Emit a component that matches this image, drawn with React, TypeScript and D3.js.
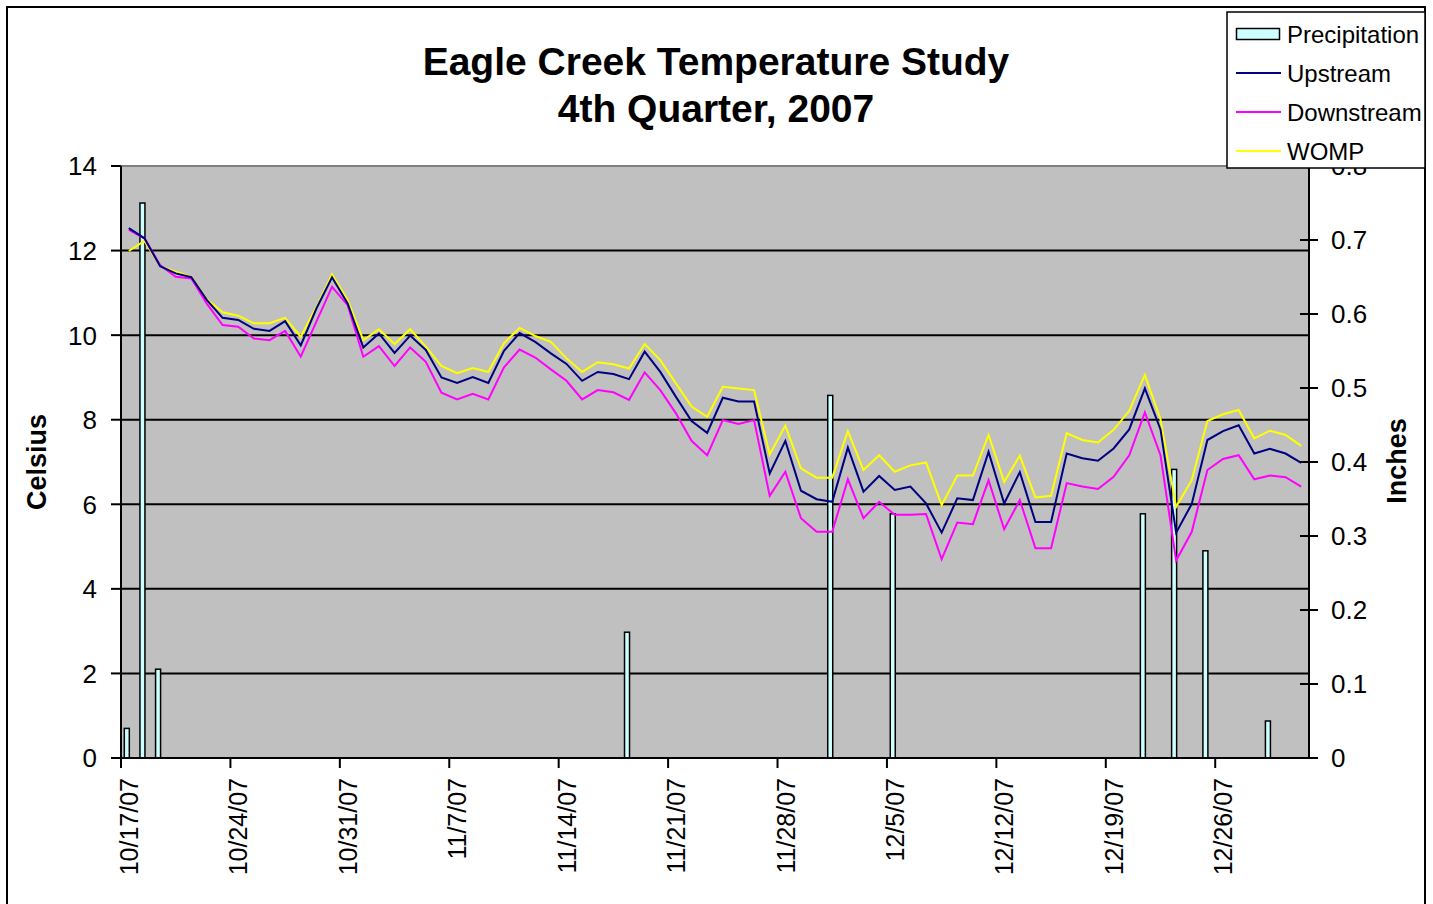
import React from "react";
import * as d3 from "d3";

const startDate = "2007-10-17";
const endDate = "2008-01-01";

const upstream = [
  12.53, 12.29, 11.63, 11.46, 11.37, 10.83, 10.41, 10.36, 10.15, 10.1,
  10.33, 9.76, 10.63, 11.37, 10.75, 9.71, 10.04, 9.58, 9.99, 9.65,
  9.0, 8.87, 9.01, 8.87, 9.63, 10.05, 9.84, 9.57, 9.32, 8.92,
  9.13, 9.08, 8.96, 9.61, 9.13, 8.54, 7.97, 7.69, 8.52, 8.43,
  8.43, 6.73, 7.5, 6.32, 6.12, 6.06, 7.34, 6.3, 6.67, 6.34,
  6.42, 6.02, 5.33, 6.14, 6.1, 7.24, 6.02, 6.76, 5.58, 5.58,
  7.2, 7.09, 7.03, 7.32, 7.77, 8.74, 7.77, 5.33, 6.01, 7.52,
  7.73, 7.87, 7.2, 7.31, 7.2, 6.98,
];

const downstream = [
  12.49, 12.29, 11.66, 11.38, 11.34, 10.74, 10.24, 10.2, 9.92, 9.88,
  10.1, 9.49, 10.32, 11.14, 10.71, 9.49, 9.74, 9.27, 9.71, 9.37,
  8.64, 8.48, 8.61, 8.48, 9.24, 9.66, 9.47, 9.19, 8.92, 8.48,
  8.7, 8.65, 8.47, 9.12, 8.7, 8.15, 7.5, 7.16, 7.99, 7.9,
  7.99, 6.2, 6.77, 5.67, 5.35, 5.35, 6.59, 5.67, 6.06, 5.75,
  5.75, 5.77, 4.7, 5.57, 5.53, 6.57, 5.41, 6.1, 4.96, 4.96,
  6.5, 6.42, 6.36, 6.65, 7.16, 8.17, 7.16, 4.67, 5.35, 6.81,
  7.07, 7.16, 6.59, 6.68, 6.64, 6.42,
];

const womp = [
  11.99, 12.23, 11.63, 11.5, 11.38, 10.85, 10.54, 10.46, 10.28, 10.28,
  10.41, 9.96, 10.67, 11.44, 10.83, 9.88, 10.14, 9.79, 10.14, 9.73,
  9.27, 9.1, 9.22, 9.13, 9.81, 10.17, 9.98, 9.84, 9.45, 9.13,
  9.36, 9.31, 9.21, 9.79, 9.41, 8.86, 8.31, 8.07, 8.78, 8.74,
  8.7, 7.18, 7.86, 6.85, 6.63, 6.63, 7.73, 6.81, 7.16, 6.77,
  6.92, 6.99, 5.98, 6.68, 6.68, 7.64, 6.53, 7.15, 6.16, 6.2,
  7.68, 7.52, 7.46, 7.76, 8.21, 9.06, 8.01, 5.94, 6.57, 7.97,
  8.13, 8.23, 7.56, 7.74, 7.64, 7.38,
];

const precipDates = [
  "2007-10-17", "2007-10-18", "2007-10-19", "2007-11-18", "2007-12-01",
  "2007-12-05", "2007-12-21", "2007-12-23", "2007-12-25", "2007-12-29",
];
const precipValues = [0.04, 0.75, 0.12, 0.17, 0.49, 0.33, 0.33, 0.39, 0.28, 0.05];

const tickDates = [
  "2007-10-17", "2007-10-24", "2007-10-31", "2007-11-07", "2007-11-14",
  "2007-11-21", "2007-11-28", "2007-12-05", "2007-12-12", "2007-12-19",
  "2007-12-26",
];
const celsiusTicks = [0, 2, 4, 6, 8, 10, 12, 14];
const inchTicks = [0, 0.1, 0.2, 0.3, 0.4, 0.5, 0.6, 0.7, 0.8];

const legendItems = ["Precipitation", "Upstream", "Downstream", "WOMP"];

const FONT = "'Liberation Sans', Arial, Helvetica, sans-serif";
const DAY = 86400000;

const parse = (s: string) => new Date(s + "T00:00:00Z");

export default function App() {
  const W = 1433;
  const H = 904;
  const plot = { left: 121, right: 1309, top: 166, bottom: 758 };

  const x = d3
    .scaleUtc()
    .domain([parse(startDate), parse(endDate)])
    .range([plot.left, plot.right]);
  const yC = d3.scaleLinear().domain([0, 14]).range([plot.bottom, plot.top]);
  const yI = d3.scaleLinear().domain([0, 0.8]).range([plot.bottom, plot.top]);

  const start = parse(startDate).getTime();
  const dayCenter = (i: number) => x(new Date(start + i * DAY + DAY / 2));

  const line = d3
    .line<number>()
    .x((_, i) => dayCenter(i))
    .y((v) => yC(v));

  const series = [
    { name: "WOMP", data: womp, color: "#ffff00" },
    { name: "Downstream", data: downstream, color: "#ff00ff" },
    { name: "Upstream", data: upstream, color: "#000080" },
  ];
  const colorByName: Record<string, string> = {
    Upstream: "#000080",
    Downstream: "#ff00ff",
    WOMP: "#ffff00",
  };

  const barW = 5;

  return (
    <svg
      width={W}
      height={H}
      style={{ position: "absolute", left: 0, top: 0, background: "#fff" }}
      fontFamily={FONT}
    >
      <rect x={7} y={7} width={1418} height={910} fill="#fff" stroke="#000" strokeWidth={2} />

      {/* title */}
      <text x={716} y={75} textAnchor="middle" fontSize={39} fontWeight="bold">
        Eagle Creek Temperature Study
      </text>
      <text x={716} y={122} textAnchor="middle" fontSize={39} fontWeight="bold">
        4th Quarter, 2007
      </text>

      {/* plot area */}
      <rect
        x={plot.left}
        y={plot.top}
        width={plot.right - plot.left}
        height={plot.bottom - plot.top}
        fill="#c0c0c0"
      />
      <line x1={plot.left} x2={plot.right} y1={plot.top} y2={plot.top} stroke="#808080" strokeWidth={2} />
      {celsiusTicks
        .filter((t) => t > 0 && t < 14)
        .map((t) => (
          <line key={"g" + t} x1={plot.left} x2={plot.right} y1={yC(t)} y2={yC(t)} stroke="#000" strokeWidth={2} />
        ))}

      {/* precipitation bars */}
      {precipDates.map((d, i) => {
        const cx = x(new Date(parse(d).getTime() + DAY / 2)) - 2;
        const top = yI(precipValues[i]);
        return (
          <rect
            key={"b" + i}
            x={cx - barW / 2}
            y={top}
            width={barW}
            height={plot.bottom - top}
            fill="#ccffff"
            stroke="#000"
            strokeWidth={1.5}
          />
        );
      })}

      {/* lines */}
      {series.map((s) => (
        <path key={s.name} d={line(s.data) || ""} fill="none" stroke={s.color} strokeWidth={2} strokeLinejoin="miter" />
      ))}

      {/* axes */}
      <line x1={plot.left} x2={plot.left} y1={plot.top} y2={plot.bottom} stroke="#000" strokeWidth={2} />
      <line x1={plot.right} x2={plot.right} y1={plot.top} y2={plot.bottom} stroke="#000" strokeWidth={2} />
      <line x1={plot.left - 10} x2={plot.right + 9} y1={plot.bottom} y2={plot.bottom} stroke="#000" strokeWidth={2} />

      {celsiusTicks.map((t) => (
        <g key={"lt" + t}>
          <line x1={plot.left - 10} x2={plot.left} y1={yC(t)} y2={yC(t)} stroke="#000" strokeWidth={2} />
          <text x={97} y={yC(t)} dy="0.36em" textAnchor="end" fontSize={26}>
            {t}
          </text>
        </g>
      ))}

      {inchTicks.map((t) => (
        <g key={"rt" + t}>
          <line x1={plot.right - 9} x2={plot.right + 9} y1={yI(t)} y2={yI(t)} stroke="#000" strokeWidth={2} />
          <text x={1331} y={yI(t)} dy="0.36em" textAnchor="start" fontSize={26}>
            {t === 0 ? "0" : d3.format(".1f")(t)}
          </text>
        </g>
      ))}

      {tickDates.map((d) => {
        const dt = parse(d);
        const px = x(dt);
        const label = `${dt.getUTCMonth() + 1}/${dt.getUTCDate()}/${String(dt.getUTCFullYear()).slice(2)}`;
        return (
          <g key={"xt" + d}>
            <line x1={px} x2={px} y1={plot.bottom} y2={plot.bottom + 10} stroke="#000" strokeWidth={2} />
            <text
              transform={`translate(${px + 17},${plot.bottom + 20}) rotate(-90)`}
              textAnchor="end"
              fontSize={25}
            >
              {label}
            </text>
          </g>
        );
      })}

      {/* axis titles */}
      <text transform="translate(46,462) rotate(-90)" textAnchor="middle" fontSize={27} fontWeight="bold">
        Celsius
      </text>
      <text transform="translate(1406,461) rotate(-90)" textAnchor="middle" fontSize={27} fontWeight="bold">
        Inches
      </text>

      {/* legend */}
      <rect x={1227} y={12} width={198} height={156} fill="#fff" stroke="#000" strokeWidth={1.5} />
      {legendItems.map((name, i) => {
        const cy = 34 + i * 39;
        return (
          <g key={"lg" + name}>
            {i === 0 ? (
              <rect x={1236.5} y={28.5} width={43} height={11} fill="#ccffff" stroke="#000" strokeWidth={1.5} />
            ) : (
              <line x1={1236} x2={1281} y1={cy} y2={cy} stroke={colorByName[name]} strokeWidth={2} />
            )}
            <text x={1287} y={cy} dy="0.36em" fontSize={24}>
              {name}
            </text>
          </g>
        );
      })}
    </svg>
  );
}
